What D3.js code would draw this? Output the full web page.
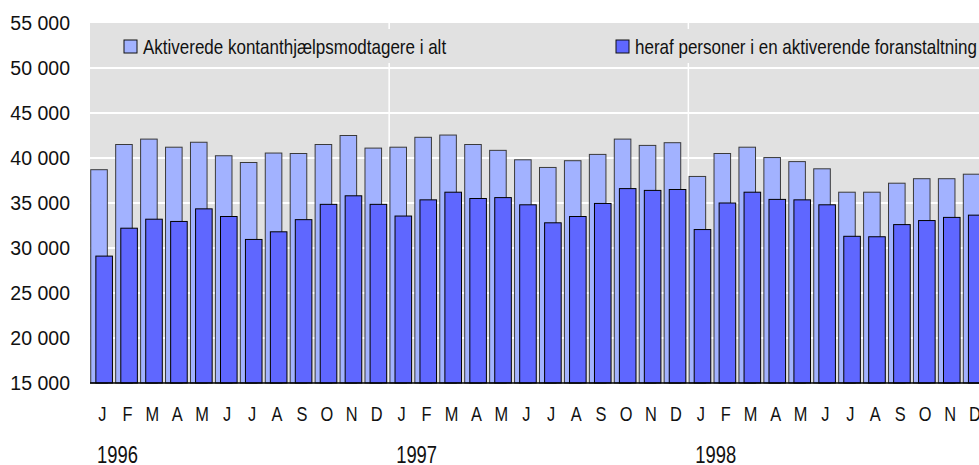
<!DOCTYPE html>
<html>
<head>
<meta charset="utf-8">
<script src="https://cdn.jsdelivr.net/npm/d3@7"></script>
<style>
  body { margin: 0; background: #fff; }
  text { font-family: "Liberation Sans", Arial, sans-serif; fill: #111; }
</style>
</head>
<body>
<svg id="chart" width="979" height="465"></svg>
<script>
const years = ["1996", "1997", "1998"];
const monthLetters = ["J", "F", "M", "A", "M", "J", "J", "A", "S", "O", "N", "D"];

// aktiverede kontanthjaelpsmodtagere i alt
const total = [
  38700, 41500, 42100, 41200, 41750, 40250, 39500, 40550, 40500, 41500, 42500, 41100,
  41200, 42300, 42550, 41500, 40850, 39800, 38950, 39700, 40400, 42100, 41400, 41700,
  37950, 40500, 41200, 40050, 39600, 38800, 36200, 36200, 37200, 37700, 37700, 38200
];
// heraf personer i en aktiverende foranstaltning
const active = [
  29100, 32200, 33200, 32950, 34350, 33500, 30950, 31800, 33150, 34850, 35800, 34850,
  33550, 35350, 36200, 35500, 35600, 34800, 32800, 33500, 34950, 36600, 36400, 36500,
  32050, 35000, 36200, 35400, 35350, 34800, 31300, 31250, 32600, 33050, 33400, 33650
];
const yTicks = [15000, 20000, 25000, 30000, 35000, 40000, 45000, 50000, 55000];
const legendLabels = ["Aktiverede kontanthjælpsmodtagere i alt", "heraf personer i en aktiverende foranstaltning"];

const svg = d3.select("#chart");
const plotLeft = 90, plotRight = 987.5, plotTop = 23, plotBottom = 383;
const narrow = 0.82; // Arial Narrow look
const idx = d3.range(total.length);

const x = d3.scaleBand().domain(idx).range([plotLeft, plotRight]).padding(0);
const y = d3.scaleLinear().domain([15000, 55000]).range([plotBottom, plotTop]);
const bw = x.bandwidth();

// background
svg.append("rect").attr("x", plotLeft).attr("y", plotTop)
  .attr("width", plotRight - plotLeft).attr("height", plotBottom - plotTop).attr("fill", "#e1e1e1");

// grid lines
svg.append("g").selectAll("line").data(yTicks.slice(1, -1)).join("line")
  .attr("x1", plotLeft).attr("x2", plotRight)
  .attr("y1", d => y(d)).attr("y2", d => y(d))
  .attr("stroke", "#fff").attr("stroke-width", 2);

svg.append("g").selectAll("line").data([12, 24]).join("line")
  .attr("x1", d => x(d)).attr("x2", d => x(d))
  .attr("y1", plotTop).attr("y2", plotBottom)
  .attr("stroke", "#fff").attr("stroke-width", 1.5);

// legend background hides the grid
svg.append("rect").attr("x", 100).attr("y", 29).attr("width", 900).attr("height", 34).attr("fill", "#e1e1e1");

// bars
svg.append("g").selectAll("rect").data(total).join("rect")
  .attr("x", (d, i) => x(i) + bw * 0.03)
  .attr("width", bw * 0.665)
  .attr("y", d => y(d))
  .attr("height", d => plotBottom - y(d))
  .attr("fill", "#a2b2ff").attr("stroke", "#3a3a3a").attr("stroke-width", 1);

svg.append("g").selectAll("rect").data(active).join("rect")
  .attr("x", (d, i) => x(i) + bw * 0.235)
  .attr("width", bw * 0.665)
  .attr("y", d => y(d))
  .attr("height", d => plotBottom - y(d))
  .attr("fill", "#5f67ff").attr("stroke", "#000").attr("stroke-width", 1);

// axis line
svg.append("line").attr("x1", plotLeft).attr("x2", plotRight).attr("y1", plotBottom).attr("y2", plotBottom)
  .attr("stroke", "#000").attr("stroke-width", 1.5);

// y labels
svg.append("g").selectAll("text").data(yTicks).join("text")
  .attr("x", 70).attr("y", d => y(d)).attr("dy", "0.36em")
  .attr("text-anchor", "end").attr("font-size", 19.5)
  .text(d => d3.format(",")(d).replace(",", " "));

// month labels
svg.append("g").selectAll("text").data(idx).join("text")
  .attr("transform", i => `translate(${x(i) + bw / 2},421) scale(${narrow},1)`)
  .attr("text-anchor", "middle").attr("font-size", 20)
  .text(i => monthLetters[i % 12]);

// year labels
svg.append("g").selectAll("text").data(years).join("text")
  .attr("transform", (d, i) => `translate(${x(i * 12) + 7},463) scale(0.8,1)`)
  .attr("font-size", 23)
  .text(d => d);

// legend
const lg = svg.append("g").selectAll("g").data(legendLabels).join("g")
  .attr("transform", (d, i) => `translate(${i === 0 ? 124 : 616},40)`);
lg.append("rect").attr("width", 13).attr("height", 13)
  .attr("fill", (d, i) => i === 0 ? "#a2b2ff" : "#5f67ff")
  .attr("stroke", "#111").attr("stroke-width", 1);
lg.append("text")
  .attr("transform", `translate(19,14) scale(0.85,1)`)
  .attr("font-size", 20).text(d => d);
</script>
</body>
</html>
